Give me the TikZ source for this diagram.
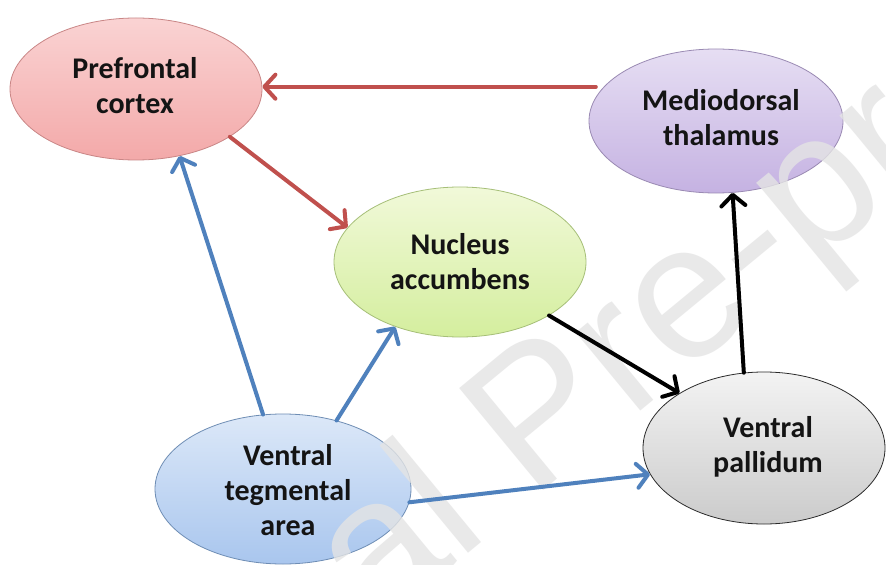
\documentclass[tikz,border=0pt]{standalone}
\usepackage{fontspec}
\setmainfont{Carlito}
\newfontfamily\wmfont{Liberation Sans}
\usetikzlibrary{arrows.meta,shapes.geometric}
\definecolor{arred}{HTML}{C0504D}
\definecolor{arblue}{HTML}{4F81BD}
\definecolor{wmgray}{HTML}{E4E4E4}
\definecolor{pfcTop}{HTML}{FAD3D3}
\definecolor{pfcBot}{HTML}{F3A9A9}
\definecolor{pfcLine}{HTML}{C98686}
\definecolor{mdTop}{HTML}{E6DEF3}
\definecolor{mdBot}{HTML}{C5B2E2}
\definecolor{mdLine}{HTML}{9A8AB3}
\definecolor{nacTop}{HTML}{F1F9D9}
\definecolor{nacBot}{HTML}{D4EE9E}
\definecolor{nacLine}{HTML}{A6BF78}
\definecolor{vtaTop}{HTML}{DCE8F8}
\definecolor{vtaBot}{HTML}{A9C6EE}
\definecolor{vtaLine}{HTML}{6E8DB4}
\definecolor{vpTop}{HTML}{F3F3F3}
\definecolor{vpBot}{HTML}{CBCBCB}
\definecolor{vpLine}{HTML}{2A2A2A}
\tikzset{
  region/.style={ellipse, inner sep=0pt, line width=0.8bp},
  tag/.style={inner sep=0pt, align=center,
    font=\fontsize{30bp}{35bp}\selectfont\bfseries, text=black!92},
  conn/.style={line width=4bp, line cap=round, line join=round,
    -{Straight Barb[length=11bp,width=24bp,line cap=round,line join=round]}},
  redarr/.style={conn, draw=arred},
  bluearr/.style={conn, draw=arblue},
  blackarr/.style={conn, draw=black},
}
\begin{document}
\begin{tikzpicture}[x=1bp,y=-1bp]
\useasboundingbox (0,0) rectangle (886,565);
\fill[white] (0,0) rectangle (886,565);

\node[region, minimum width=252bp, minimum height=142bp,
      top color=pfcTop, bottom color=pfcBot, draw=pfcLine] (pfc) at (136,89) {};
\node[region, minimum width=254bp, minimum height=144bp,
      top color=mdTop, bottom color=mdBot, draw=mdLine] (md) at (716,121) {};
\node[region, minimum width=252bp, minimum height=150bp,
      top color=nacTop, bottom color=nacBot, draw=nacLine] (nac) at (460,262) {};
\node[region, minimum width=256bp, minimum height=150bp,
      top color=vtaTop, bottom color=vtaBot, draw=vtaLine] (vta) at (283,489) {};
\node[region, minimum width=242bp, minimum height=152bp,
      top color=vpTop, bottom color=vpBot, draw=vpLine] (vp) at (764,448) {};

\begin{scope}
  \clip (0,0) rectangle (886,565);
  \node[rotate=39.5, anchor=base west, inner sep=0pt, text=wmgray, text opacity=0.8,
        font=\wmfont\fontsize{192bp}{192bp}\selectfont] (wm) at (5,935) {Journal Pre-proof};
\end{scope}

\node[tag] (pfcl) at (135,86) {Prefrontal\\cortex};
\node[tag] (mdl)  at (721,118) {Mediodorsal\\thalamus};
\node[tag] (nacl) at (460,262) {Nucleus\\accumbens};
\node[tag] (vtal) at (288,490) {Ventral\\tegmental\\area};
\node[tag] (vpl)  at (768,447) {Ventral\\pallidum};

\draw[redarr, shorten <=8bp] (md.163) -- (pfc.east |- md.163);
\draw[redarr] (pfc.-27) -- (nac.163);
\draw[bluearr] (vta.105) -- (pfc.-57);
\draw[bluearr] (vta.52) -- (nac.-135);
\draw[bluearr] (vta.-6) -- (vp.193);
\draw[blackarr] (nac.-31) -- (vp.147);
\draw[blackarr] (vp.105) -- (md.-77);
\end{tikzpicture}
\end{document}
